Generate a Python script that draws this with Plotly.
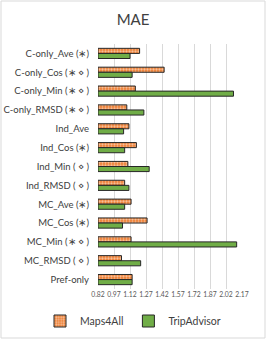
import plotly.graph_objects as go

categories = ["C-only_Ave (∗)", "C-only_Cos (∗ ⋄ )", "C-only_Min (∗ ⋄ )", "C-only_RMSD (∗ ⋄ )",
              "Ind_Ave", "Ind_Cos (∗)", "Ind_Min ( ⋄ )", "Ind_RMSD ( ⋄ )",
              "MC_Ave (∗)", "MC_Cos (∗)", "MC_Min (∗ ⋄ )", "MC_RMSD ( ⋄ )", "Pref-only"]
maps4all = [1.21, 1.44, 1.17, 1.09, 1.11, 1.18, 1.10, 1.07, 1.13, 1.28, 1.13, 1.04, 1.14]
tripadvisor = [1.12, 1.14, 2.09, 1.25, 1.06, 1.07, 1.30, 1.11, 1.07, 1.05, 2.12, 1.22, 1.14]
tick_vals = [0.82, 0.97, 1.12, 1.27, 1.42, 1.57, 1.72, 1.87, 2.02, 2.17]
axis_min = 0.82

W, H = 266, 340
ML, MR, MT, MB = 98, 24, 44, 51
PW, PH = W - ML - MR, H - MT - MB

FONT = "Lato, Liberation Sans, Arial, sans-serif"

fig = go.Figure()
fig.add_trace(go.Bar(
    y=categories, x=[v - axis_min for v in maps4all], base=axis_min, orientation="h", name="Maps4All",
    marker=dict(color="#ED7D31", line=dict(color="#262626", width=1),
                pattern=dict(shape=".", fgcolor="white", bgcolor="#ED7D31", size=3, solidity=0.45)),
))
fig.add_trace(go.Bar(
    y=categories, x=[v - axis_min for v in tripadvisor], base=axis_min, orientation="h", name="TripAdvisor",
    marker=dict(color="#70AD47", line=dict(color="#262626", width=1)),
))

def px_x(p):
    return (p - ML) / PW

def px_y(p):
    return (H - MB - p) / PH

fig.update_layout(
    width=W, height=H,
    margin=dict(l=ML, r=MR, t=MT, b=MB, pad=0, autoexpand=False),
    paper_bgcolor="white", plot_bgcolor="white",
    barmode="group", bargap=0.46, bargroupgap=0,
    font=dict(family=FONT, color="#404040"),
    title=dict(text="MAE", x=0.5, xanchor="center", y=1 - 20 / H, yanchor="middle",
               font=dict(size=15, color="#404040")),
    xaxis=dict(range=[axis_min, 2.17], tickvals=tick_vals, ticktext=[f"{v:.2f}" for v in tick_vals],
               showgrid=True, gridcolor="#D9D9D9", gridwidth=1, zeroline=False,
               showline=False, ticks="", tickangle=0, automargin=False,
               tickfont=dict(size=6.8, color="#595959")),
    yaxis=dict(autorange="reversed", showgrid=False, showline=False, ticks="", automargin=False,
               tickfont=dict(size=9.5, color="#404040"), ticklabelstandoff=8),
    legend=dict(orientation="h", x=px_x(40), xanchor="left",
                y=px_y(321), yanchor="middle",
                font=dict(size=10.5, color="#404040"),
                traceorder="normal", itemwidth=30),
    showlegend=True,
)

fig.add_shape(type="rect", xref="paper", yref="paper",
              x0=px_x(1), x1=px_x(265), y0=px_y(338), y1=px_y(1),
              line=dict(color="#D9D9D9", width=1), fillcolor="rgba(0,0,0,0)", layer="below")

fig.write_html("out.html", config={"displayModeBar": False},
               post_script="document.body.style.margin='0';document.body.style.overflow='hidden';")
